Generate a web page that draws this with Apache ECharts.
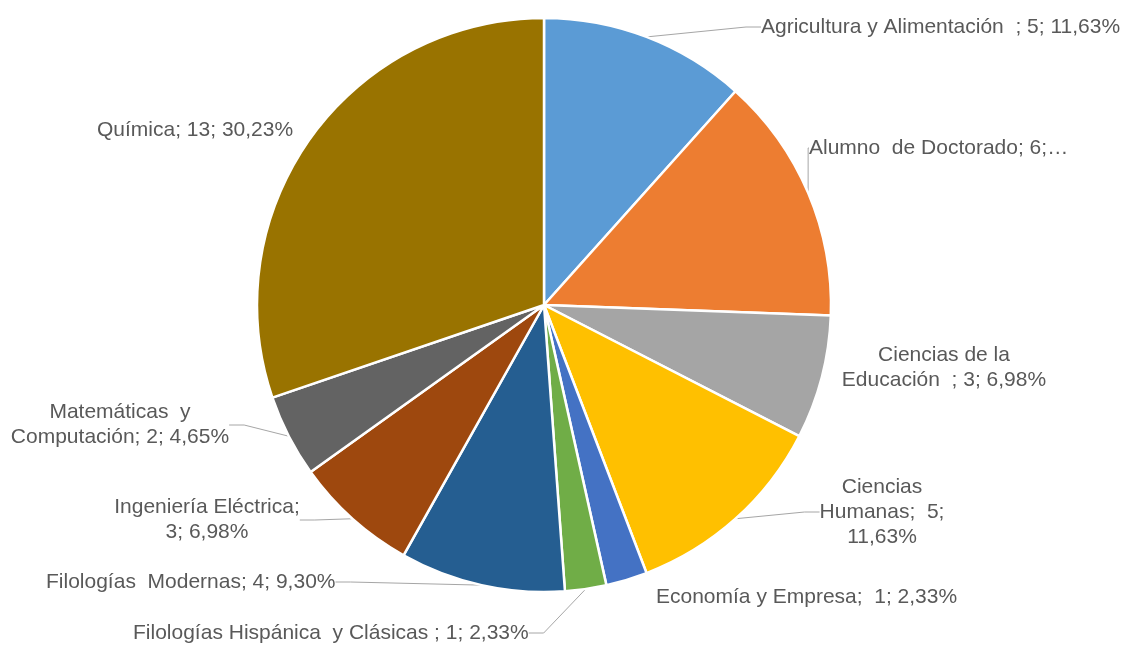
<!DOCTYPE html>
<html>
<head>
<meta charset="utf-8">
<script src="https://cdn.jsdelivr.net/npm/echarts@6/dist/echarts.min.js"></script>
<style>html,body{margin:0;padding:0;background:#fff;}#c{width:1133px;height:646px;}</style>
</head>
<body>
<div id="c"></div>
<script>
const categories = [
  'Agricultura y Alimentación', 'Alumno de Doctorado', 'Ciencias de la Educación',
  'Ciencias Humanas', 'Economía y Empresa', 'Filologías Hispánica y Clásicas',
  'Filologías Modernas', 'Ingeniería Eléctrica', 'Matemáticas y Computación', 'Química'
];
const values = [5, 6, 3, 5, 1, 1, 4, 3, 2, 13];
const labelTexts = [
  'Agricultura y Alimentación  ; 5; 11,63%',
  'Alumno  de Doctorado; 6;…',
  'Ciencias de la\nEducación  ; 3; 6,98%',
  'Ciencias\nHumanas;  5;\n11,63%',
  'Economía y Empresa;  1; 2,33%',
  'Filologías Hispánica  y Clásicas ; 1; 2,33%',
  'Filologías  Modernas; 4; 9,30%',
  'Ingeniería Eléctrica;\n3; 6,98%',
  'Matemáticas  y\nComputación; 2; 4,65%',
  'Química; 13; 30,23%'
];
const colors = ['#5B9BD5', '#ED7D31', '#A5A5A5', '#FFC000', '#4472C4', '#70AD47', '#255E91', '#9E480E', '#636363', '#997300'];
const showLine = [true, true, false, true, false, true, true, true, true, false];

// label anchor placement (layout only)
const labelPos = [
  {x: 761, y: 27, align: 'left'},
  {x: 809, y: 148, align: 'left'},
  {x: 944, y: 368, align: 'center'},
  {x: 882, y: 512, align: 'center'},
  {x: 656, y: 597, align: 'left'},
  {x: 133, y: 633, align: 'left'},
  {x: 46, y: 582, align: 'left'},
  {x: 207, y: 520, align: 'center'},
  {x: 120, y: 425, align: 'center'},
  {x: 97, y: 130, align: 'left'}
];

const chart = echarts.init(document.getElementById('c'), null, {renderer: 'canvas'});
chart.setOption({
  backgroundColor: '#ffffff',
  animation: false,
  series: [{
    type: 'pie',
    center: [544, 305],
    radius: 287,
    startAngle: 90,
    clockwise: true,
    avoidLabelOverlap: false,
    itemStyle: {borderColor: '#ffffff', borderWidth: 2.5},
    label: {
      show: true,
      position: 'outside',
      color: '#595959',
      fontFamily: 'Liberation Sans, Arial, sans-serif',
      fontSize: 21,
      lineHeight: 25,
      formatter: p => labelTexts[p.dataIndex]
    },
    labelLine: {
      show: true,
      length: 10,
      length2: 15,
      lineStyle: {color: '#A6A6A6', width: 1}
    },
    labelLayout: p => {
      const lp = labelPos[p.dataIndex];
      return {x: lp.x, y: lp.y, align: lp.align, verticalAlign: 'middle'};
    },
    data: categories.map((c, i) => ({
      name: c,
      value: values[i],
      itemStyle: {color: colors[i]},
      label: {align: labelPos[i].align},
      labelLine: {show: showLine[i]}
    }))
  }]
});
</script>
</body>
</html>
